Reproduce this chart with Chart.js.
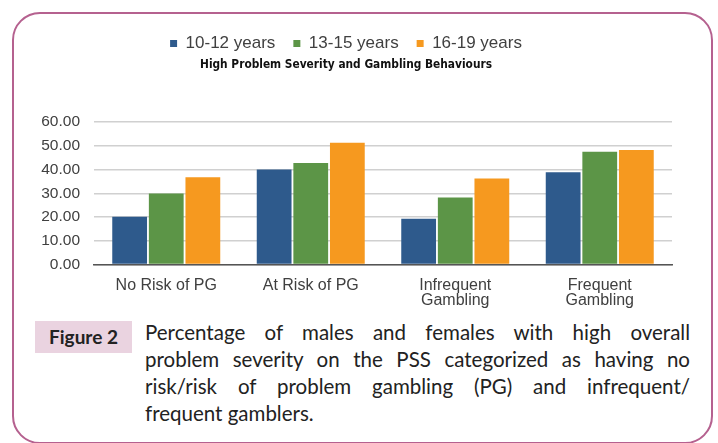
<!DOCTYPE html>
<html>
<head>
<meta charset="utf-8">
<script src="https://cdn.jsdelivr.net/npm/chart.js@4"></script>
<style>
  html, body { margin: 0; padding: 0; background: #fff; }
  body { width: 718px; height: 443px; position: relative; overflow: hidden; }
  #frame {
    position: absolute; left: 12px; top: 12px; width: 697px; height: 428px;
    border: 2px solid #b5618f; border-radius: 28px;
  }
  #wrap { position: absolute; left: 0; top: 0; width: 718px; height: 315px; }
  #figlabel {
    position: absolute; left: 35px; top: 321px; width: 97px; height: 32px;
    background: #ead3e0; font-family: Lato, sans-serif; font-weight: bold;
    font-size: 19px; line-height: 32px; text-align: center; color: #222;
  }
  #caption {
    position: absolute; left: 145px; top: 319px; width: 545px;
    font-family: Lato, sans-serif; font-size: 20.5px; line-height: 27px; color: #222;
  }
  #caption div { text-align: justify; text-align-last: justify; white-space: nowrap; }
  #caption div.last { text-align-last: left; }
</style>
</head>
<body>
<div id="frame"></div>
<div id="wrap"><canvas id="myChart"></canvas></div>
<div id="figlabel">Figure 2</div>
<div id="caption">
  <div>Percentage of males and females with high overall</div>
  <div>problem severity on the PSS categorized as having no</div>
  <div>risk/risk of problem gambling (PG) and infrequent/</div>
  <div class="last">frequent gamblers.</div>
</div>
<script>
// categories and series
const categories = ['No Risk of PG', 'At Risk of PG', ['Infrequent', 'Gambling'], ['Frequent', 'Gambling']]
const age10to12 = [20.2, 40.1, 19.3, 38.9]
const age13to15 = [29.9, 42.8, 28.3, 47.5]
const age16to19 = [36.8, 51.3, 36.3, 48.3]
const seriesNames = ['10-12 years', '13-15 years', '16-19 years']
const yTicks = [0, 10, 20, 30, 40, 50, 60]

const colors = ['#2e5a8c', '#5c9547', '#f6991f']
const sans = 'Liberation Sans, Arial, sans-serif'

const ctx = document.getElementById('myChart').getContext('2d')
const myChart = new Chart(ctx, {
    type: 'bar',
    data: {
        labels: categories,
        datasets: [age10to12, age13to15, age16to19].map((vals, i) => ({
            label: seriesNames[i],
            data: vals,
            backgroundColor: colors[i],
            borderWidth: 0,
            categoryPercentage: 0.76,
            barPercentage: 0.95
        }))
    },
    options: {
        responsive: true,
        maintainAspectRatio: false,
        animation: false,
        layout: { padding: { left: 20, right: 46, top: 17, bottom: 2 } },
        plugins: {
            legend: {
                position: 'top',
                labels: {
                    boxWidth: 7, boxHeight: 7, padding: 18,
                    color: '#404040',
                    font: { family: sans, size: 17 }
                }
            },
            title: {
                display: true,
                weight: 500,
                text: 'High Problem Severity and Gambling Behaviours',
                color: '#111',
                font: { family: 'DejaVu Sans Condensed, sans-serif', size: 11.8, weight: 'bold' },
                padding: { top: -4, bottom: 50 }
            },
            tooltip: { enabled: false }
        },
        scales: {
            x: {
                grid: { display: false },
                border: { color: '#555', width: 1.5 },
                ticks: { color: '#404040', font: { family: sans, size: 16, lineHeight: 0.95 }, padding: 5 }
            },
            y: {
                min: 0, max: 60,
                afterBuildTicks: (s) => { s.ticks = yTicks.map(v => ({ value: v })) },
                afterFit: (s) => { s.width = 74 },
                grid: { color: '#d0d0d0', lineWidth: 1.5, drawTicks: false },
                border: { display: false },
                ticks: {
                    color: '#404040', padding: 14,
                    font: { family: sans, size: 15.5 },
                    callback: (v) => v.toFixed(2)
                }
            }
        }
    }
})
</script>
</body>
</html>
